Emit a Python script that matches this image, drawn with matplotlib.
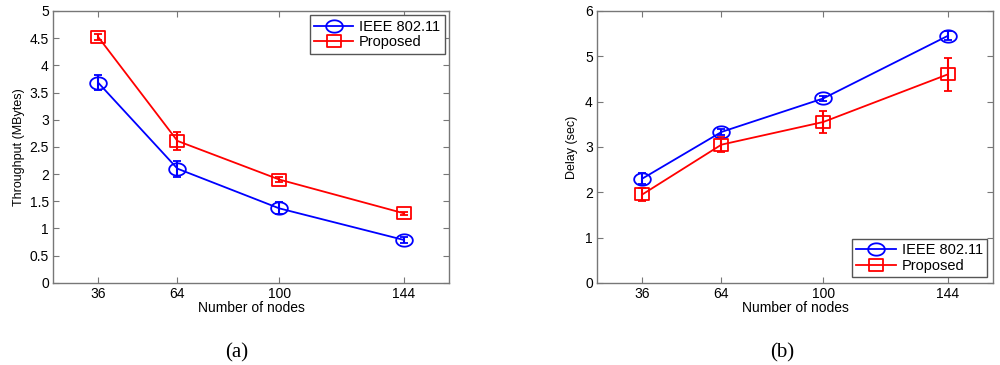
import numpy as np
import matplotlib
matplotlib.use('Agg')
import matplotlib.pyplot as plt
from matplotlib.path import Path
from matplotlib.ticker import FormatStrFormatter

# data
nodes = [36, 64, 100, 144]
labels = ['IEEE 802.11', 'Proposed']

thr_ieee = [3.68, 2.10, 1.37, 0.79]
thr_ieee_err = [0.14, 0.15, 0.11, 0.05]
thr_prop = [4.52, 2.61, 1.90, 1.28]
thr_prop_err = [0.05, 0.16, 0.04, 0.03]

dly_ieee = [2.30, 3.33, 4.07, 5.45]
dly_ieee_err = [0.12, 0.07, 0.06, 0.10]
dly_prop = [1.95, 3.05, 3.55, 4.60]
dly_prop_err = [0.15, 0.17, 0.24, 0.37]

plt.rcParams['font.family'] = ['Liberation Sans', 'DejaVu Sans']

# slightly wide markers (the original is horizontally stretched)
t = np.linspace(0, 2*np.pi, 60)
ell = Path(np.column_stack([1.35*np.cos(t), np.sin(t)]), closed=True)
sq = Path([(-1.25, -1), (1.25, -1), (1.25, 1), (-1.25, 1), (-1.25, -1)], closed=True)

fig = plt.figure(figsize=(10, 3.65), dpi=100)
ax1 = fig.add_axes([0.053, 0.225, 0.396, 0.745])
ax2 = fig.add_axes([0.597, 0.225, 0.396, 0.745])

def draw(ax, y1, e1, y2, e2):
    c1 = ax.errorbar(nodes, y1, yerr=e1, color='blue', marker=ell, markersize=12,
                     mfc='none', mec='blue', mew=1.3, lw=1.3, capsize=3, elinewidth=1.5,
                     capthick=1.5)
    c2 = ax.errorbar(nodes, y2, yerr=e2, color='red', marker=sq, markersize=10,
                     mfc='none', mec='red', mew=1.3, lw=1.3, capsize=3, elinewidth=1.5,
                     capthick=1.5)
    ax.set_xlim(20, 160)
    ax.set_xticks(nodes)
    ax.set_xlabel('Number of nodes', fontsize=10, labelpad=0)
    ax.tick_params(direction='in', top=True, right=True, length=4, width=0.8,
                   color='#777777', labelsize=10, pad=3)
    for s in ax.spines.values():
        s.set_color('#777777')
        s.set_linewidth(1.0)
    ax.yaxis.set_major_formatter(FormatStrFormatter('%g'))
    return [c1[0], c2[0]]

h = draw(ax1, thr_ieee, thr_ieee_err, thr_prop, thr_prop_err)
ax1.set_ylim(0, 5)
ax1.set_yticks(np.arange(0, 5.01, 0.5))
ax1.set_ylabel('Throughput (MBytes)', fontsize=9, labelpad=3)
ax1.legend(h, labels, loc='upper right', fontsize=10.5, handlelength=2.7,
           handletextpad=0.4, borderpad=0.3, labelspacing=0.1, fancybox=False,
           edgecolor='#555555', framealpha=1, borderaxespad=0.3)

h = draw(ax2, dly_ieee, dly_ieee_err, dly_prop, dly_prop_err)
ax2.set_ylim(0, 6)
ax2.set_yticks(np.arange(0, 7, 1))
ax2.set_ylabel('Delay (sec)', fontsize=9, labelpad=5)
ax2.legend(h, labels, loc='lower right', fontsize=10.5, handlelength=2.7,
           handletextpad=0.4, borderpad=0.3, labelspacing=0.1, fancybox=False,
           edgecolor='#555555', framealpha=1, borderaxespad=0.4)

fig.text(0.237, 1 - 353/365, '(a)', ha='center', va='center', fontsize=15,
         family='Liberation Serif')
fig.text(0.782, 1 - 353/365, '(b)', ha='center', va='center', fontsize=15,
         family='Liberation Serif')

fig.savefig('out.png', dpi=100)
